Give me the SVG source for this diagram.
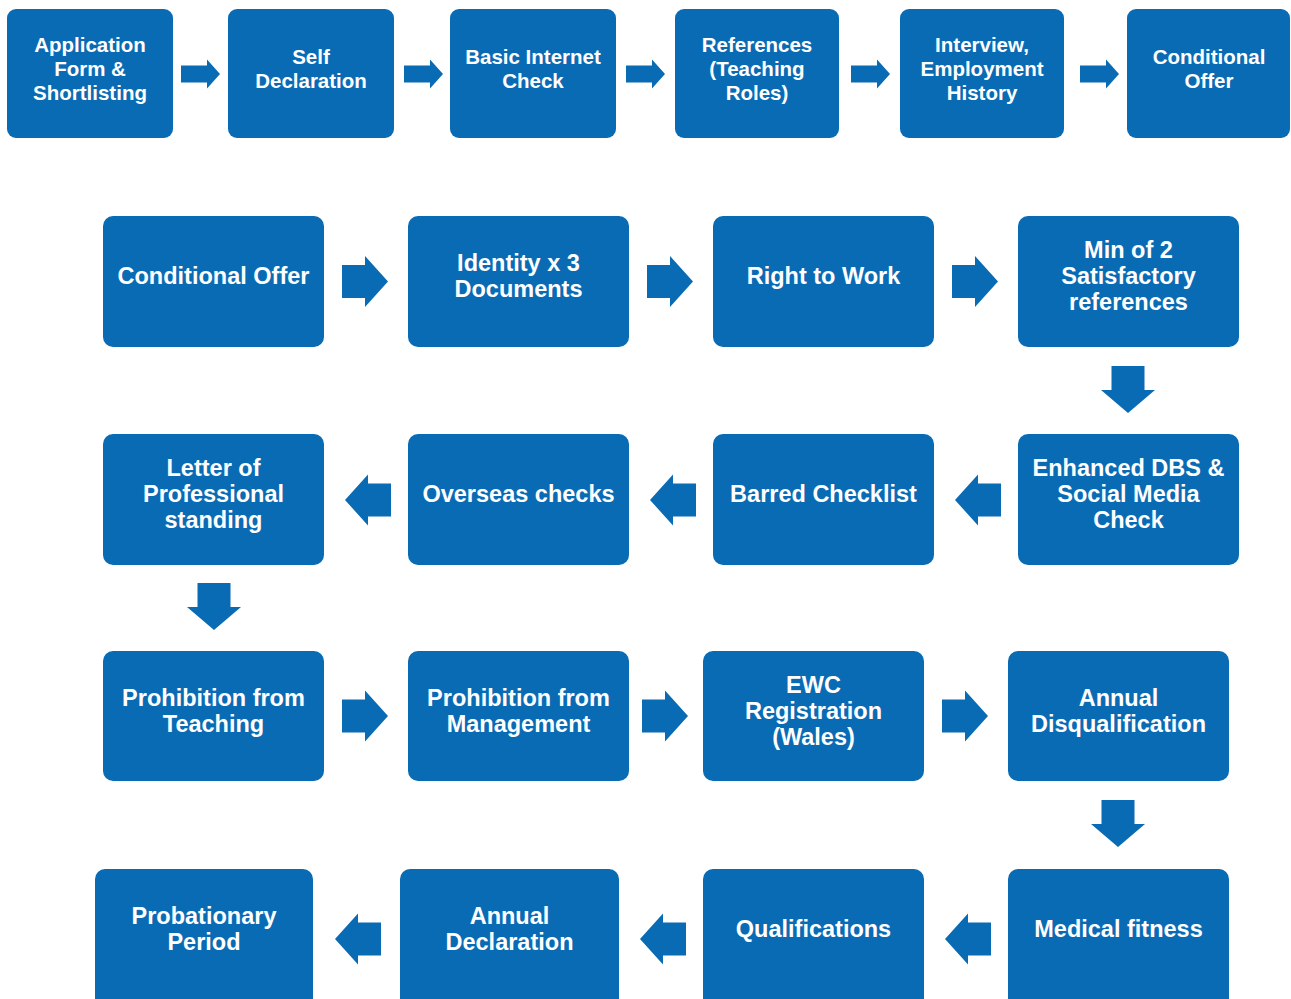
<svg xmlns="http://www.w3.org/2000/svg" xmlns:xlink="http://www.w3.org/1999/xlink" width="1291" height="999" viewBox="0 0 1291 999">
<style>
.box{fill:#0A6BB5;}
.arr{fill:#0A6BB5;}
text{fill:#ffffff;font-family:"Liberation Sans",Arial,sans-serif;font-weight:bold;text-anchor:middle;}
.t1{font-size:20.5px;}
.t2{font-size:23.5px;}
</style>
<defs>
<path id="ar-s" d="M0,-8.5 H26 V-14.5 L39,0 L26,14.5 V8.5 H0 Z"/>
<path id="ar-r" d="M0,-16.5 H23 V-25.5 L46,0 L23,25.5 V16.5 H0 Z"/>
<path id="ar-l" d="M0,0 L23,-25.5 V-16.5 H46 V16.5 H23 V25.5 Z"/>
<path id="ar-d" d="M-16.5,0 V24 H-27 L0,47 L27,24 H16.5 V0 Z"/>
</defs>
<rect width="1291" height="999" fill="#ffffff"/>

<g id="connectors" class="arr">
<use xlink:href="#ar-s" x="181" y="74"/>
<use xlink:href="#ar-s" x="404" y="74"/>
<use xlink:href="#ar-s" x="626" y="74"/>
<use xlink:href="#ar-s" x="851" y="74"/>
<use xlink:href="#ar-s" x="1080" y="74"/>
<use xlink:href="#ar-r" x="342" y="281.5"/>
<use xlink:href="#ar-r" x="647" y="281.5"/>
<use xlink:href="#ar-r" x="952" y="281.5"/>
<use xlink:href="#ar-d" x="1128" y="366"/>
<use xlink:href="#ar-l" x="955" y="500"/>
<use xlink:href="#ar-l" x="650" y="500"/>
<use xlink:href="#ar-l" x="345" y="500"/>
<use xlink:href="#ar-d" x="214" y="583"/>
<use xlink:href="#ar-r" x="342" y="716"/>
<use xlink:href="#ar-r" x="642" y="716"/>
<use xlink:href="#ar-r" x="942" y="716"/>
<use xlink:href="#ar-d" x="1118" y="800"/>
<use xlink:href="#ar-l" x="945" y="939"/>
<use xlink:href="#ar-l" x="640" y="939"/>
<use xlink:href="#ar-l" x="335" y="939"/>
</g>

<!-- Row 1 -->
<g id="n-application"><rect class="box" x="7" y="9" width="166" height="129" rx="9"/>
<text class="t1" x="90" y="52">Application</text><text class="t1" x="90" y="76">Form &amp;</text><text class="t1" x="90" y="100">Shortlisting</text></g>
<g id="n-self"><rect class="box" x="228" y="9" width="166" height="129" rx="9"/>
<text class="t1" x="311" y="64">Self</text><text class="t1" x="311" y="88">Declaration</text></g>
<g id="n-internet"><rect class="box" x="450" y="9" width="166" height="129" rx="9"/>
<text class="t1" x="533" y="64">Basic Internet</text><text class="t1" x="533" y="88">Check</text></g>
<g id="n-references"><rect class="box" x="675" y="9" width="164" height="129" rx="9"/>
<text class="t1" x="757" y="52">References</text><text class="t1" x="757" y="76">(Teaching</text><text class="t1" x="757" y="100">Roles)</text></g>
<g id="n-interview"><rect class="box" x="900" y="9" width="164" height="129" rx="9"/>
<text class="t1" x="982" y="52">Interview,</text><text class="t1" x="982" y="76">Employment</text><text class="t1" x="982" y="100">History</text></g>
<g id="n-offer1"><rect class="box" x="1127" y="9" width="163" height="129" rx="9"/>
<text class="t1" x="1209" y="64">Conditional</text><text class="t1" x="1209" y="88">Offer</text></g>

<!-- Row 2 -->
<g id="n-offer2"><rect class="box" x="103" y="216" width="221" height="131" rx="10"/>
<text class="t2" x="213.5" y="284">Conditional Offer</text></g>
<g id="n-identity"><rect class="box" x="408" y="216" width="221" height="131" rx="10"/>
<text class="t2" x="518.5" y="271">Identity x 3</text><text class="t2" x="518.5" y="297">Documents</text></g>
<g id="n-rtw"><rect class="box" x="713" y="216" width="221" height="131" rx="10"/>
<text class="t2" x="823.5" y="284">Right to Work</text></g>
<g id="n-min2"><rect class="box" x="1018" y="216" width="221" height="131" rx="10"/>
<text class="t2" x="1128.5" y="258">Min of 2</text><text class="t2" x="1128.5" y="284">Satisfactory</text><text class="t2" x="1128.5" y="310">references</text></g>

<!-- Row 3 -->
<g id="n-letter"><rect class="box" x="103" y="434" width="221" height="131" rx="10"/>
<text class="t2" x="213.5" y="476">Letter of</text><text class="t2" x="213.5" y="502">Professional</text><text class="t2" x="213.5" y="528">standing</text></g>
<g id="n-overseas"><rect class="box" x="408" y="434" width="221" height="131" rx="10"/>
<text class="t2" x="518.5" y="502">Overseas checks</text></g>
<g id="n-barred"><rect class="box" x="713" y="434" width="221" height="131" rx="10"/>
<text class="t2" x="823.5" y="502">Barred Checklist</text></g>
<g id="n-dbs"><rect class="box" x="1018" y="434" width="221" height="131" rx="10"/>
<text class="t2" x="1128.5" y="476">Enhanced DBS &amp;</text><text class="t2" x="1128.5" y="502">Social Media</text><text class="t2" x="1128.5" y="528">Check</text></g>

<!-- Row 4 -->
<g id="n-proh-teach"><rect class="box" x="103" y="651" width="221" height="130" rx="10"/>
<text class="t2" x="213.5" y="706">Prohibition from</text><text class="t2" x="213.5" y="732">Teaching</text></g>
<g id="n-proh-man"><rect class="box" x="408" y="651" width="221" height="130" rx="10"/>
<text class="t2" x="518.5" y="706">Prohibition from</text><text class="t2" x="518.5" y="732">Management</text></g>
<g id="n-ewc"><rect class="box" x="703" y="651" width="221" height="130" rx="10"/>
<text class="t2" x="813.5" y="693">EWC</text><text class="t2" x="813.5" y="719">Registration</text><text class="t2" x="813.5" y="745">(Wales)</text></g>
<g id="n-annual-disq"><rect class="box" x="1008" y="651" width="221" height="130" rx="10"/>
<text class="t2" x="1118.5" y="706">Annual</text><text class="t2" x="1118.5" y="732">Disqualification</text></g>

<!-- Row 5 -->
<g id="n-probation"><rect class="box" x="95" y="869" width="218" height="140" rx="10"/>
<text class="t2" x="204" y="924">Probationary</text><text class="t2" x="204" y="950">Period</text></g>
<g id="n-annual-decl"><rect class="box" x="400" y="869" width="219" height="140" rx="10"/>
<text class="t2" x="509.5" y="924">Annual</text><text class="t2" x="509.5" y="950">Declaration</text></g>
<g id="n-quals"><rect class="box" x="703" y="869" width="221" height="140" rx="10"/>
<text class="t2" x="813.5" y="937">Qualifications</text></g>
<g id="n-medical"><rect class="box" x="1008" y="869" width="221" height="140" rx="10"/>
<text class="t2" x="1118.5" y="937">Medical fitness</text></g>
</svg>
